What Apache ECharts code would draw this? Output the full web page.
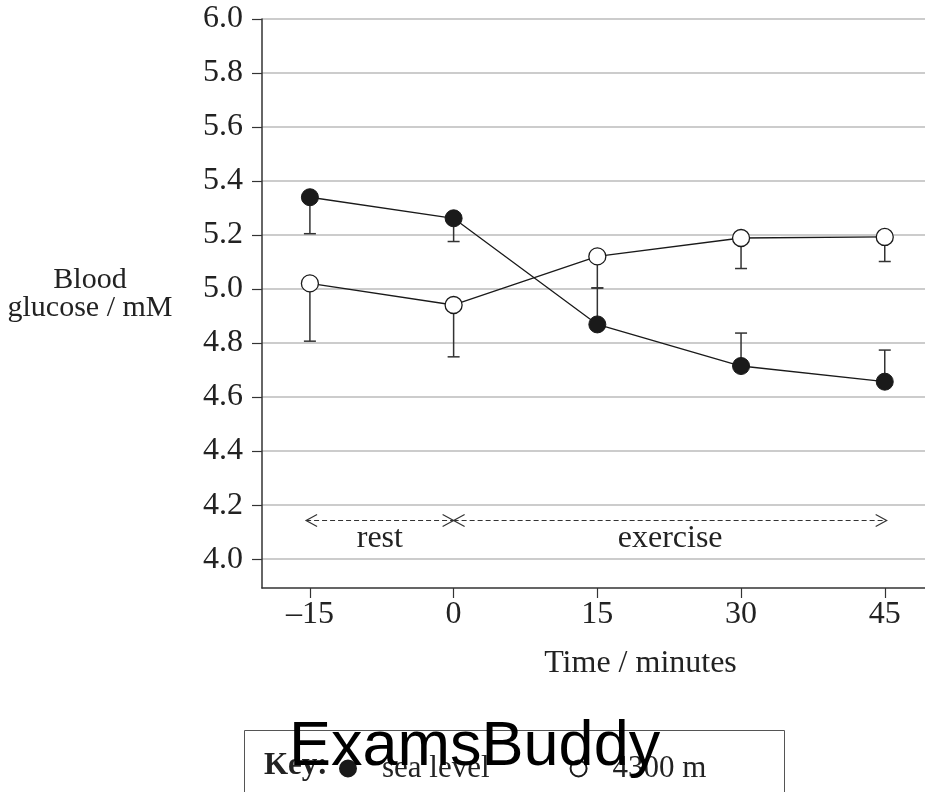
<!DOCTYPE html>
<html>
<head>
<meta charset="utf-8">
<script src="https://cdn.jsdelivr.net/npm/echarts@6/dist/echarts.min.js"></script>
<style>
html,body{margin:0;padding:0;background:#fff;}
#chart{width:925px;height:792px;}
</style>
</head>
<body>
<div id="chart"></div>
<script>
// ---- data ----
const times = [-15, 0, 15, 30, 45];
const xTickLabels = ['–15', '0', '15', '30', '45'];
const yTicks = [4.0, 4.2, 4.4, 4.6, 4.8, 5.0, 5.2, 5.4, 5.6, 5.8, 6.0];
const seaLevel = [5.34, 5.262, 4.869, 4.715, 4.657];
const seaLevelErrEnd = [5.205, 5.176, 5.004, 4.837, 4.774];
const altitude = [5.021, 4.941, 5.121, 5.189, 5.193];
const altitudeErrEnd = [4.807, 4.749, 5.004, 5.076, 5.102];
const phases = ['rest', 'exercise'];
const phaseStart = [-15.4, 0];
const phaseEnd = [0, 45.2];
const phaseLevel = 4.143;

const serif = '"Liberation Serif", "DejaVu Serif", serif';
const chart = echarts.init(document.getElementById('chart'));

function pairs(vals) { return times.map((t, i) => [t, vals[i]]); }
function errData(vals, ends) { return times.map((t, i) => [t, vals[i], ends[i]]); }

function errRender(params, api) {
  const x = api.value(0), v = api.value(1), e = api.value(2);
  const p1 = api.coord([x, v]);
  const p2 = api.coord([x, e]);
  const st = { stroke: '#333', lineWidth: 1.5 };
  return {
    type: 'group',
    children: [
      { type: 'line', shape: { x1: p1[0], y1: p1[1], x2: p2[0], y2: p2[1] }, style: st },
      { type: 'line', shape: { x1: p2[0] - 6, y1: p2[1], x2: p2[0] + 6, y2: p2[1] }, style: st }
    ]
  };
}

function phaseRender(params, api) {
  const i = params.dataIndex;
  const a = api.coord([api.value(0), api.value(2)]);
  const b = api.coord([api.value(1), api.value(2)]);
  const st = { stroke: '#333', lineWidth: 1.2, fill: null };
  return {
    type: 'group',
    children: [
      { type: 'line', shape: { x1: a[0], y1: a[1], x2: b[0], y2: b[1] }, style: { stroke: '#333', lineWidth: 1.2, lineDash: [5, 3] } },
      { type: 'polyline', shape: { points: [[a[0] + 11, a[1] - 6], [a[0], a[1]], [a[0] + 11, a[1] + 6]] }, style: st },
      { type: 'polyline', shape: { points: [[b[0] - 11, b[1] - 6], [b[0], b[1]], [b[0] - 11, b[1] + 6]] }, style: st },
      { type: 'text', x: (a[0] + b[0]) / 2, y: a[1] + 18,
        style: { text: phases[i], font: '32px ' + serif, fill: '#222', align: 'center', verticalAlign: 'middle' } }
    ]
  };
}

const option = {
  animation: false,
  backgroundColor: '#fff',
  grid: { left: 262, right: 0, top: 19, bottom: 204, containLabel: false },
  xAxis: {
    type: 'value', min: -20, max: 49.2,
    name: 'Time / minutes', nameLocation: 'middle', nameGap: 60,
    nameTextStyle: { fontFamily: serif, fontSize: 32, color: '#222', padding: [0, 0, 0, 94] },
    axisLine: { show: true, onZero: false, lineStyle: { color: '#333', width: 1.5 } },
    axisTick: { show: true, length: 10, lineStyle: { color: '#333', width: 1.2 }, customValues: times },
    axisLabel: { fontFamily: serif, fontSize: 32, color: '#222', margin: 11, customValues: times,
      formatter: v => xTickLabels[times.indexOf(v)] },
    splitLine: { show: false }
  },
  yAxis: {
    type: 'value', min: 3.893, max: 6.0,
    name: '{a|Blood}\n{a|glucose / mM}\n{s|}', nameLocation: 'middle', nameRotate: 0, nameGap: 172,
    nameTextStyle: { fontFamily: serif, fontSize: 30, color: '#222', align: 'center',
      rich: { a: { fontFamily: serif, fontSize: 30, color: '#222', lineHeight: 28, align: 'center' }, s: { fontSize: 10, lineHeight: 18 } } },
    axisLine: { show: true, onZero: false, lineStyle: { color: '#333', width: 1.5 } },
    axisTick: { show: true, length: 10, lineStyle: { color: '#333', width: 1.2 }, customValues: yTicks },
    axisLabel: { fontFamily: serif, fontSize: 32, color: '#222', margin: 19, customValues: yTicks,
      formatter: v => v.toFixed(1) },
    splitLine: { show: true, lineStyle: { color: '#bbb', width: 1.5 } }
  },
  legend: {
    left: 334, top: 748, itemWidth: 16, itemHeight: 16, itemGap: 80, icon: 'circle',
    textStyle: { fontFamily: serif, fontSize: 31, color: '#222', padding: [0, 0, 0, 21] },
    data: ['sea level', '4300 m']
  },
  graphic: [
    { type: 'rect', left: 242, top: 728, shape: { width: 540, height: 100 }, style: { fill: null, stroke: '#555', lineWidth: 1 }, z: 0 },
    { type: 'text', left: 264, top: 750, style: { text: 'Key:', font: 'bold 31px ' + serif, fill: '#222' }, z: 5 },
    { type: 'text', left: 289, top: 716, style: { text: 'ExamsBuddy', font: '63px "Liberation Sans", Arial, sans-serif', fill: '#000' }, z: 100 }
  ],
  series: [
    { name: 'sea level err', type: 'custom', renderItem: errRender, data: errData(seaLevel, seaLevelErrEnd), z: 1, silent: true },
    { name: '4300 m err', type: 'custom', renderItem: errRender, data: errData(altitude, altitudeErrEnd), z: 1, silent: true },
    { name: 'phases', type: 'custom', renderItem: phaseRender,
      data: phases.map((p, i) => [phaseStart[i], phaseEnd[i], phaseLevel]), z: 1, silent: true },
    { name: 'sea level', type: 'line', data: pairs(seaLevel), symbol: 'circle', symbolSize: 17,
      lineStyle: { color: '#1a1a1a', width: 1.3 },
      itemStyle: { color: '#1a1a1a', borderColor: '#1a1a1a', borderWidth: 1 }, z: 3 },
    { name: '4300 m', type: 'line', data: pairs(altitude), symbol: 'circle', symbolSize: 17,
      lineStyle: { color: '#1a1a1a', width: 1.3 },
      itemStyle: { color: '#fff', borderColor: '#1a1a1a', borderWidth: 1.3 }, z: 3 }
  ]
};
chart.setOption(option);
</script>
</body>
</html>
